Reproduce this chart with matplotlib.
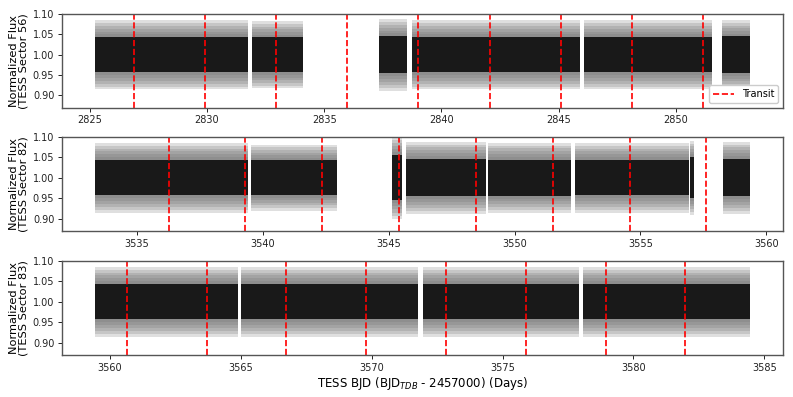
import matplotlib
matplotlib.use("Agg")
import matplotlib.pyplot as plt
import numpy as np

s56_start = [2825.21, 2831.90, 2837.32, 2838.74, 2846.10, 2851.98]
s56_end = [2831.75, 2834.09, 2838.53, 2845.92, 2851.53, 2853.18]
s56_core = [0.043, 0.043, 0.045, 0.043, 0.043, 0.045]     # half-width of the dense band
s56_spread = [0.085, 0.082, 0.088, 0.085, 0.085, 0.085]   # half-width incl. error bars
s56_transits = [2826.87, 2829.90, 2832.94, 2835.97, 2839.02,
                2842.06, 2845.11, 2848.15, 2851.18]

s82_start = [3533.33, 3539.53, 3545.13, 3545.69, 3548.95, 3552.40, 3556.98, 3558.26]
s82_end = [3539.40, 3542.95, 3545.52, 3548.85, 3552.24, 3556.92, 3557.11, 3559.36]
s82_core = [0.043, 0.042, 0.055, 0.045, 0.044, 0.043, 0.050, 0.045]
s82_spread = [0.085, 0.080, 0.100, 0.088, 0.085, 0.085, 0.090, 0.088]
s82_transits = [3536.26, 3539.31, 3542.35, 3545.41, 3548.47,
                3551.52, 3554.57, 3557.62]

s83_start = [3559.43, 3565.03, 3571.98, 3578.09]
s83_end = [3564.90, 3571.79, 3577.91, 3584.46]
s83_core = [0.043, 0.043, 0.043, 0.043]
s83_spread = [0.085, 0.085, 0.085, 0.085]
s83_transits = [3560.66, 3563.70, 3566.74, 3569.78, 3572.86,
                3575.89, 3578.94, 3581.98]

sectors = ["56", "82", "83"]
panels = [
    (s56_start, s56_end, s56_core, s56_spread, s56_transits),
    (s82_start, s82_end, s82_core, s82_spread, s82_transits),
    (s83_start, s83_end, s83_core, s83_spread, s83_transits),
]
panel_top = [0.9647, 0.6557, 0.3433]
panel_bot = [0.7287, 0.4181, 0.1058]

fig = plt.figure(figsize=(7.93, 3.97), dpi=100)

for i, (sector, (t0, t1, core, spread, transits)) in enumerate(zip(sectors, panels)):
    ax = fig.add_axes([0.0782, panel_bot[i], 0.9874 - 0.0782, panel_top[i] - panel_bot[i]])
    for a, b, c, s in zip(t0, t1, core, spread):
        x = [a, b]
        # soft edge: stacked translucent layers fading out towards the error-bar tips
        for w in np.linspace(s, c, 7):
            ax.fill_between(x, 1 - w, 1 + w, color="#6e6e6e", alpha=0.22, lw=0)
        ax.fill_between(x, 1 - c, 1 + c, color="#101010", alpha=0.92, lw=0)
    for k, t in enumerate(transits):
        ax.axvline(t, color="red", ls="--", lw=1.2,
                   label="Transit" if k == 0 else None)
    ax.set_xlim(min(t0) - 0.05 * (max(t1) - min(t0)), max(t1) + 0.05 * (max(t1) - min(t0)))
    ax.set_ylim(0.87, 1.10)
    ax.set_yticks([0.90, 0.95, 1.00, 1.05, 1.10])
    ax.yaxis.set_major_formatter(matplotlib.ticker.FormatStrFormatter("%.2f"))
    ax.xaxis.set_major_locator(matplotlib.ticker.MultipleLocator(5))
    ax.tick_params(labelsize=7, length=3, width=0.7, colors="#222222", pad=2.5)
    for sp in ax.spines.values():
        sp.set_color("#555555")
        sp.set_linewidth(1.0)
    ax.set_ylabel(f"Normalized Flux\n(TESS Sector {sector})", fontsize=8.2,
                  linespacing=1.0, labelpad=3)
    if i == 0:
        ax.legend(loc="lower right", fontsize=7, framealpha=1, handlelength=2.2,
                  borderpad=0.4, fancybox=True)
    if i == 2:
        ax.set_xlabel("TESS BJD (BJD$_{TDB}$ - 2457000) (Days)", fontsize=8.5, labelpad=2)

fig.savefig("out.png", dpi=100, facecolor="white")
